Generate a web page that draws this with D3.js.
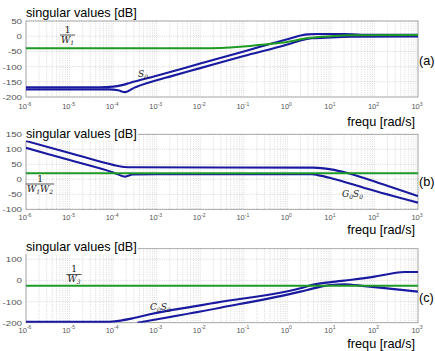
<!DOCTYPE html>
<html>
<head>
<meta charset="utf-8">
<script src="https://cdn.jsdelivr.net/npm/d3@7"></script>
<style>
body { margin: 0; background: #fff; }
svg { display: block; }
</style>
</head>
<body>
<div id="chart-area"></div>
<script>
// tick values
const xTickExps = [-6, -5, -4, -3, -2, -1, 0, 1, 2, 3];
const yTicksA = [50, 0, -50, -100, -150, -200];
const yTicksB = [150, 100, 50, 0, -50, -100];
const yTicksC = [100, 0, -100, -200];

// (a) sensitivity S0 and 1/W1, [freq rad/s, dB]
const w1Inv = [[1e-6, -40], [1e-2, -40], [3e-2, -39], [0.1, -34], [0.3, -27], [1, -19], [3, -6], [10, 0], [30, 3], [1e3, 4]];
const s0Max = [[1e-6, -168], [5e-5, -168], [1e-4, -166], [1.6e-4, -161], [2.5e-4, -153], [1e-3, -130], [1e-2, -90], [0.1, -50], [1, -10], [2, 2], [3, 6], [5, 7], [20, 7], [50, 5], [1e3, 5]];
const s0Min = [[1e-6, -175], [8e-5, -175], [1.3e-4, -178], [1.9e-4, -184], [3e-4, -170], [1e-3, -145], [2e-3, -133], [1e-2, -105], [0.1, -65], [1, -27], [2, -14], [3.7, -7], [10, -4], [30, -2], [1e3, -1]];

// (b) G0S0 and 1/(W1W2)
const w1w2Inv = [[1e-6, 20], [1e3, 20]];
const gsMax = [[1e-6, 128], [1e-5, 88], [1e-4, 48], [1.6e-4, 42], [3e-4, 40], [4, 39], [10, 33], [25, 20], [150, -16], [1e3, -56]];
const gsMin = [[1e-6, 105], [1e-5, 64], [1e-4, 23], [1.9e-4, 9], [2.8e-4, 16], [1e-3, 17], [3.7, 17], [5, 14], [10.7, 3], [62, -30], [1e3, -78]];

// (c) C0S0 and 1/W3
const w3Inv = [[1e-6, -25], [1e3, -25]];
const csMax = [[1e-6, -196], [7e-5, -196], [1.5e-4, -190], [3e-4, -178], [7e-4, -160], [1e-2, -118], [2.5e-2, -104], [2, -37], [4, -20], [10, -8], [30, 3], [100, 18], [250, 33], [500, 40], [1e3, 40]];
const csMin = [[3.6e-4, -200], [2.9e-2, -129], [2, -53], [5, -33], [10, -22], [20, -18], [60, -27], [250, -40], [1e3, -53]];

let width = 435, height = 351;
let blue = "#1a1aa0", green = "#1f9a24";

let svg = d3.select("#chart-area").append("svg")
    .attr("width", width)
    .attr("height", height);

let x = d3.scaleLog().domain([1e-6, 1e3]).range([26, 418]);

let panels = [
    {id: "a", top: 21, bottom: 97, domain: [-200, 50], ticks: yTicksA, blue: [s0Max, s0Min], green: w1Inv,
     tag: "(a)", tagY: 65, titleY: 17, freqY: 126, xlabY: 109},
    {id: "b", top: 134.3, bottom: 209.3, domain: [-100, 150], ticks: yTicksB, blue: [gsMax, gsMin], green: w1w2Inv,
     tag: "(b)", tagY: 186, titleY: 137.5, freqY: 234, xlabY: 220},
    {id: "c", top: 248.7, bottom: 322.7, domain: [-200, 150], ticks: yTicksC, blue: [csMax, csMin], green: w3Inv,
     tag: "(c)", tagY: 302, titleY: 251, freqY: 347.5, xlabY: 332.5}
];

// minor grid positions
let gridX = [];
for (let e = -6; e < 3; e++) {
    for (let k = 1; k < 10; k++) gridX.push(k * Math.pow(10, e));
}
gridX.push(1e3);

panels.forEach(p => {
    let y = d3.scaleLinear().domain(p.domain).range([p.bottom, p.top]);
    let g = svg.append("g").attr("class", "panel-" + p.id);

    g.append("clipPath").attr("id", "clip-" + p.id)
        .append("rect")
        .attr("x", x.range()[0]).attr("y", p.top)
        .attr("width", x.range()[1] - x.range()[0]).attr("height", p.bottom - p.top);

    // grid
    g.selectAll(".vgrid").data(gridX).enter().append("line")
        .attr("x1", d => x(d)).attr("x2", d => x(d))
        .attr("y1", p.top).attr("y2", p.bottom)
        .attr("stroke", "#bdbdbd").attr("stroke-width", 0.6)
        .attr("stroke-dasharray", "1,1.3");
    g.selectAll(".hgrid").data(p.ticks).enter().append("line")
        .attr("x1", x.range()[0]).attr("x2", x.range()[1])
        .attr("y1", d => y(d)).attr("y2", d => y(d))
        .attr("stroke", "#bdbdbd").attr("stroke-width", 0.6)
        .attr("stroke-dasharray", "1,1.3");

    // frame
    g.append("rect")
        .attr("x", x.range()[0]).attr("y", p.top)
        .attr("width", x.range()[1] - x.range()[0]).attr("height", p.bottom - p.top)
        .attr("fill", "none").attr("stroke", "#999").attr("stroke-width", 0.8);

    // y tick labels (slightly wide, like the scanned figure)
    g.selectAll(".ylab").data(p.ticks).enter().append("text")
        .attr("transform", d => "translate(22," + (y(d) + 3) + ") scale(1.22,1)")
        .attr("text-anchor", "end")
        .attr("font-family", "Liberation Sans, Arial, sans-serif")
        .attr("font-size", 8).attr("fill", "#555")
        .text(d => d);

    // x tick labels 10^e
    let xl = g.selectAll(".xlab").data(xTickExps).enter().append("text")
        .attr("x", d => x(Math.pow(10, d)) - 1)
        .attr("y", p.xlabY)
        .attr("text-anchor", "middle")
        .attr("font-family", "Liberation Sans, Arial, sans-serif")
        .attr("font-size", 7.5).attr("fill", "#555");
    xl.append("tspan").text("10");
    xl.append("tspan").attr("dy", -3.5).attr("font-size", 5).text(d => d);

    // curves
    let line = d3.line()
        .x(d => x(d[0]))
        .y(d => y(d[1]))
        .curve(d3.curveMonotoneX);
    let lines = g.append("g").attr("clip-path", "url(#clip-" + p.id + ")");
    p.blue.forEach(s => {
        lines.append("path").datum(s)
            .attr("d", line)
            .attr("fill", "none").attr("stroke", blue).attr("stroke-width", 2.1);
    });
    lines.append("path").datum(p.green)
        .attr("d", line)
        .attr("fill", "none").attr("stroke", green).attr("stroke-width", 2);

    // title with white box
    let title = g.append("text")
        .attr("x", 26).attr("y", p.titleY)
        .attr("font-family", "Liberation Sans, Arial, sans-serif")
        .attr("font-size", 12.7).attr("fill", "#000")
        .text("singular values [dB]");
    let bb = title.node().getBBox();
    g.append("rect")
        .attr("x", bb.x - 1).attr("y", bb.y)
        .attr("width", bb.width + 2).attr("height", bb.height)
        .attr("fill", "#fff");
    title.raise();

    g.append("text")
        .attr("x", 415).attr("y", p.freqY)
        .attr("text-anchor", "end")
        .attr("font-family", "Liberation Sans, Arial, sans-serif")
        .attr("font-size", 12.7).attr("fill", "#000")
        .text("frequ [rad/s]");

    g.append("text")
        .attr("x", 419).attr("y", p.tagY)
        .attr("font-family", "Liberation Sans, Arial, sans-serif")
        .attr("font-size", 12.7).attr("fill", "#000")
        .text(p.tag);
});

// math annotations
function fraction(cx, cy, sym, sub1, sub2) {
    let g = svg.append("g").attr("font-family", "DejaVu Serif, Liberation Serif, serif").attr("fill", "#111");
    g.append("text").attr("x", cx).attr("y", cy - 2.5).attr("text-anchor", "middle")
        .attr("font-size", 9).text("1");
    let den = g.append("text").attr("x", cx).attr("y", cy + 7.5).attr("text-anchor", "middle")
        .attr("font-size", 9).attr("font-style", "italic");
    den.append("tspan").text(sym);
    den.append("tspan").attr("font-size", 6).attr("dy", 2).text(sub1);
    if (sub2) {
        den.append("tspan").attr("font-size", 9).attr("dy", -2).text(sym);
        den.append("tspan").attr("font-size", 6).attr("dy", 2).text(sub2);
    }
    let w = den.node().getBBox().width;
    g.append("line").attr("x1", cx - w / 2 - 1).attr("x2", cx + w / 2 + 1)
        .attr("y1", cy).attr("y2", cy).attr("stroke", "#111").attr("stroke-width", 0.7);
}
function product(x0, y0, parts) {
    let t = svg.append("text").attr("x", x0).attr("y", y0)
        .attr("font-family", "DejaVu Serif, Liberation Serif, serif")
        .attr("font-style", "italic").attr("font-size", 9).attr("fill", "#222");
    parts.forEach(([s, sub], i) => {
        t.append("tspan").attr("dy", i === 0 ? 0 : -2).attr("font-size", 9).text(s);
        t.append("tspan").attr("dy", 2).attr("font-size", 6).text(sub);
    });
}

fraction(67.5, 35, "W", "1");
product(138, 77, [["S", "0"]]);
fraction(40, 184, "W", "1", "2");
product(342, 197, [["G", "0"], ["S", "0"]]);
fraction(74, 274.5, "W", "3");
product(150, 310, [["C", "0"], ["S", "0"]]);
</script>
</body>
</html>
